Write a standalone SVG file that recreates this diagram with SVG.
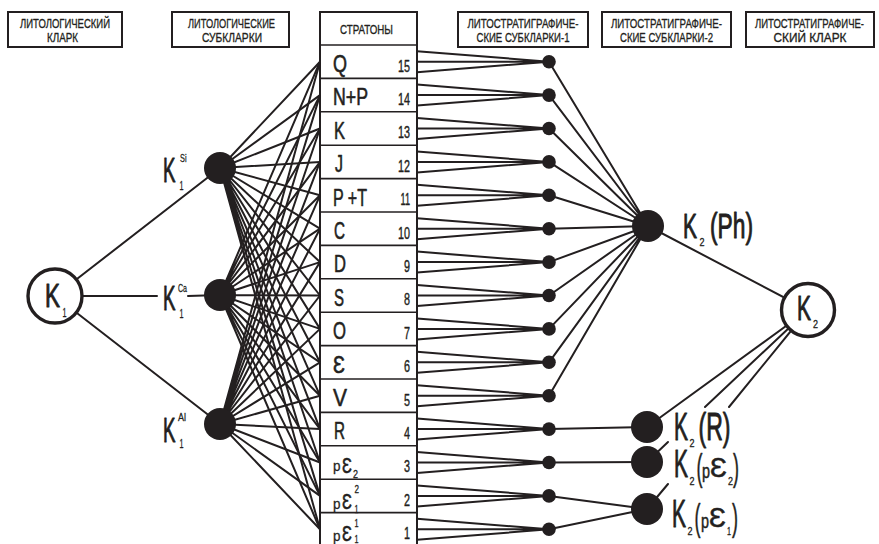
<svg xmlns="http://www.w3.org/2000/svg" width="879" height="544" viewBox="0 0 879 544">
<style>
  .ln{stroke:#231f20;stroke-width:2;fill:none;stroke-linecap:round}
  .box{fill:#fff;stroke:#231f20;stroke-width:2}
  .sep{stroke:#231f20;stroke-width:1.6}
  .t{font-family:"Liberation Sans","DejaVu Sans",sans-serif;fill:#231f20;stroke:#231f20;stroke-width:0.5;stroke-linejoin:round}
  .hd{font-size:13.5px;stroke-width:0.35}
  .row{font-size:24px;stroke-width:0.6}
  .num{font-size:16px;stroke-width:0.4}
  .big{stroke-width:1}
  .sm{stroke-width:0.3}
  .dot{fill:#231f20}
  .ring{fill:#fff;stroke:#231f20;stroke-width:3.4}
</style>
<rect width="879" height="544" fill="#fff"/>

<!-- column headers -->
<g id="headers">
  <g id="hdr-lith-clarke">
    <rect class="box" x="8" y="12" width="114" height="35"/>
    <text class="t hd" x="20" y="28" textLength="90" lengthAdjust="spacingAndGlyphs">ЛИТОЛОГИЧЕСКИЙ</text>
    <text class="t hd" x="47" y="42" textLength="31" lengthAdjust="spacingAndGlyphs">КЛАРК</text>
  </g>
  <g id="hdr-lith-subclarkes">
    <rect class="box" x="172" y="12" width="117" height="35"/>
    <text class="t hd" x="188" y="28" textLength="87" lengthAdjust="spacingAndGlyphs">ЛИТОЛОГИЧЕСКИЕ</text>
    <text class="t hd" x="202" y="42" textLength="60" lengthAdjust="spacingAndGlyphs">СУБКЛАРКИ</text>
  </g>
  <g id="hdr-ls-sub1">
    <rect class="box" x="458" y="12" width="130" height="35"/>
    <text class="t hd" x="467.5" y="28" textLength="111" lengthAdjust="spacingAndGlyphs">ЛИТОСТРАТИГРАФИЧЕ-</text>
    <text class="t hd" x="476.5" y="42" textLength="93" lengthAdjust="spacingAndGlyphs">СКИЕ СУБКЛАРКИ-1</text>
  </g>
  <g id="hdr-ls-sub2">
    <rect class="box" x="602" y="12" width="129" height="35"/>
    <text class="t hd" x="611" y="28" textLength="111" lengthAdjust="spacingAndGlyphs">ЛИТОСТРАТИГРАФИЧЕ-</text>
    <text class="t hd" x="620" y="42" textLength="93" lengthAdjust="spacingAndGlyphs">СКИЕ СУБКЛАРКИ-2</text>
  </g>
  <g id="hdr-ls-clarke">
    <rect class="box" x="746" y="12" width="128" height="35"/>
    <text class="t hd" x="755" y="28" textLength="109" lengthAdjust="spacingAndGlyphs">ЛИТОСТРАТИГРАФИЧЕ-</text>
    <text class="t hd" x="773.5" y="42" textLength="73" lengthAdjust="spacingAndGlyphs">СКИЙ КЛАРК</text>
  </g>
</g>

<!-- strata column -->
<g id="strata">
  <rect class="box" x="320" y="12" width="97" height="540"/>
  <text class="t hd" x="340" y="33.5" textLength="53" lengthAdjust="spacingAndGlyphs">СТРАТОНЫ</text>
  <g class="sep">
    <line x1="320" y1="45" x2="417" y2="45"/>
    <line x1="320" y1="78.4" x2="417" y2="78.4"/>
    <line x1="320" y1="111.8" x2="417" y2="111.8"/>
    <line x1="320" y1="145.2" x2="417" y2="145.2"/>
    <line x1="320" y1="178.6" x2="417" y2="178.6"/>
    <line x1="320" y1="212" x2="417" y2="212"/>
    <line x1="320" y1="245.4" x2="417" y2="245.4"/>
    <line x1="320" y1="278.8" x2="417" y2="278.8"/>
    <line x1="320" y1="312.2" x2="417" y2="312.2"/>
    <line x1="320" y1="345.6" x2="417" y2="345.6"/>
    <line x1="320" y1="379" x2="417" y2="379"/>
    <line x1="320" y1="412.4" x2="417" y2="412.4"/>
    <line x1="320" y1="445.8" x2="417" y2="445.8"/>
    <line x1="320" y1="479.2" x2="417" y2="479.2"/>
    <line x1="320" y1="512.6" x2="417" y2="512.6"/>
  </g>
  <!-- stratum names -->
  <text class="t row" x="333" y="72" textLength="14" lengthAdjust="spacingAndGlyphs">Q</text>
  <text class="t row" x="333" y="105.4" textLength="35" lengthAdjust="spacingAndGlyphs">N+P</text>
  <text class="t row" x="334" y="138.8" textLength="11" lengthAdjust="spacingAndGlyphs">K</text>
  <text class="t row" x="335" y="172.2" textLength="8" lengthAdjust="spacingAndGlyphs">J</text>
  <text class="t row" x="333" y="205.6" textLength="34" lengthAdjust="spacingAndGlyphs">P +T</text>
  <text class="t row" x="334" y="239" textLength="11" lengthAdjust="spacingAndGlyphs">C</text>
  <text class="t row" x="334" y="272.4" textLength="12" lengthAdjust="spacingAndGlyphs">D</text>
  <text class="t row" x="334" y="305.8" textLength="10" lengthAdjust="spacingAndGlyphs">S</text>
  <text class="t row" x="333" y="339.2" textLength="13" lengthAdjust="spacingAndGlyphs">O</text>
  <text class="t row" x="333" y="372.6" textLength="12" lengthAdjust="spacingAndGlyphs">Ɛ</text>
  <text class="t row" x="333" y="406" textLength="14" lengthAdjust="spacingAndGlyphs">V</text>
  <text class="t row" x="334" y="439.4" textLength="11" lengthAdjust="spacingAndGlyphs">R</text>
  <!-- pƐ2 -->
  <text class="t sm" font-size="15" x="333" y="471" textLength="7.5" lengthAdjust="spacingAndGlyphs">p</text>
  <text class="t" font-size="22" x="342" y="472.5" textLength="10" lengthAdjust="spacingAndGlyphs">Ɛ</text>
  <text class="t sm" font-size="11" x="353" y="477.5" textLength="5" lengthAdjust="spacingAndGlyphs">2</text>
  <!-- pƐ1 upper -->
  <text class="t sm" font-size="15" x="333" y="509" textLength="7.5" lengthAdjust="spacingAndGlyphs">p</text>
  <text class="t" font-size="22" x="342" y="508.5" textLength="10" lengthAdjust="spacingAndGlyphs">Ɛ</text>
  <text class="t sm" font-size="10" x="354.5" y="493" textLength="4.5" lengthAdjust="spacingAndGlyphs">2</text>
  <text class="t sm" font-size="11" x="354.5" y="513" textLength="4" lengthAdjust="spacingAndGlyphs">1</text>
  <!-- pƐ1 lower -->
  <text class="t sm" font-size="15" x="333" y="541" textLength="7.5" lengthAdjust="spacingAndGlyphs">p</text>
  <text class="t" font-size="22" x="342" y="541" textLength="10" lengthAdjust="spacingAndGlyphs">Ɛ</text>
  <text class="t sm" font-size="10" x="354.5" y="527" textLength="4" lengthAdjust="spacingAndGlyphs">1</text>
  <text class="t sm" font-size="11" x="354.5" y="543" textLength="4" lengthAdjust="spacingAndGlyphs">1</text>
  <!-- stratum numbers -->
  <text class="t num" x="398" y="71.5" textLength="12" lengthAdjust="spacingAndGlyphs">15</text>
  <text class="t num" x="398" y="104.9" textLength="12" lengthAdjust="spacingAndGlyphs">14</text>
  <text class="t num" x="398" y="138.3" textLength="12" lengthAdjust="spacingAndGlyphs">13</text>
  <text class="t num" x="398" y="171.7" textLength="12" lengthAdjust="spacingAndGlyphs">12</text>
  <text class="t num" x="400.5" y="205.1" textLength="9.5" lengthAdjust="spacingAndGlyphs">11</text>
  <text class="t num" x="398" y="238.5" textLength="12" lengthAdjust="spacingAndGlyphs">10</text>
  <text class="t num" x="404" y="271.9" textLength="6" lengthAdjust="spacingAndGlyphs">9</text>
  <text class="t num" x="404" y="305.3" textLength="6" lengthAdjust="spacingAndGlyphs">8</text>
  <text class="t num" x="404" y="338.7" textLength="6" lengthAdjust="spacingAndGlyphs">7</text>
  <text class="t num" x="404" y="372.1" textLength="6" lengthAdjust="spacingAndGlyphs">6</text>
  <text class="t num" x="404" y="405.5" textLength="6" lengthAdjust="spacingAndGlyphs">5</text>
  <text class="t num" x="404" y="438.9" textLength="6" lengthAdjust="spacingAndGlyphs">4</text>
  <text class="t num" x="404" y="472.3" textLength="6" lengthAdjust="spacingAndGlyphs">3</text>
  <text class="t num" x="404" y="505.7" textLength="6" lengthAdjust="spacingAndGlyphs">2</text>
  <text class="t num" x="404" y="539.1" textLength="6" lengthAdjust="spacingAndGlyphs">1</text>
</g>

<!-- connectors -->
<g id="connectors" class="ln">
  <!-- lithological clarke to subclarkes -->
  <line x1="55" y1="296" x2="220" y2="168"/>
  <line x1="55" y1="296" x2="157" y2="296"/>
  <line x1="188" y1="296" x2="220" y2="295"/>
  <line x1="55" y1="296" x2="220" y2="424"/>
  <!-- subclarke Si to every stratum -->
  <path d="M220 168L320 61.7M220 168L320 95.1M220 168L320 128.5M220 168L320 161.9M220 168L320 195.3M220 168L320 228.7M220 168L320 262.1M220 168L320 295.5M220 168L320 328.9M220 168L320 362.3M220 168L320 395.7M220 168L320 429.1M220 168L320 462.5M220 168L320 495.9M220 168L320 529.3"/>
  <!-- subclarke Ca to every stratum -->
  <path d="M220 295L320 61.7M220 295L320 95.1M220 295L320 128.5M220 295L320 161.9M220 295L320 195.3M220 295L320 228.7M220 295L320 262.1M220 295L320 295.5M220 295L320 328.9M220 295L320 362.3M220 295L320 395.7M220 295L320 429.1M220 295L320 462.5M220 295L320 495.9M220 295L320 529.3"/>
  <!-- subclarke Al to every stratum -->
  <path d="M220 424L320 61.7M220 424L320 95.1M220 424L320 128.5M220 424L320 161.9M220 424L320 195.3M220 424L320 228.7M220 424L320 262.1M220 424L320 295.5M220 424L320 328.9M220 424L320 362.3M220 424L320 395.7M220 424L320 429.1M220 424L320 462.5M220 424L320 495.9M220 424L320 529.3"/>
  <!-- strata to lithostratigraphic subclarkes-1 -->
  <path d="M417 51.2L549 61.7M417 61.7L549 61.7M417 72.2L549 61.7
           M417 84.6L549 95.1M417 95.1L549 95.1M417 105.6L549 95.1
           M417 118L549 128.5M417 128.5L549 128.5M417 139L549 128.5
           M417 151.4L549 161.9M417 161.9L549 161.9M417 172.4L549 161.9
           M417 184.8L549 195.3M417 195.3L549 195.3M417 205.8L549 195.3
           M417 218.2L549 228.7M417 228.7L549 228.7M417 239.2L549 228.7
           M417 251.6L549 262.1M417 262.1L549 262.1M417 272.6L549 262.1
           M417 285L549 295.5M417 295.5L549 295.5M417 306L549 295.5
           M417 318.4L549 328.9M417 328.9L549 328.9M417 339.4L549 328.9
           M417 351.8L549 362.3M417 362.3L549 362.3M417 372.8L549 362.3
           M417 385.2L549 395.7M417 395.7L549 395.7M417 406.2L549 395.7
           M417 418.6L549 429.1M417 429.1L549 429.1M417 439.6L549 429.1
           M417 452L549 462.5M417 462.5L549 462.5M417 473L549 462.5
           M417 485.4L549 495.9M417 495.9L549 495.9M417 506.4L549 495.9
           M417 518.8L549 529.3M417 529.3L549 529.3M417 539.8L549 529.3"/>
  <!-- subclarkes-1 to subclarkes-2 -->
  <path d="M549 61.7L648 226M549 95.1L648 226M549 128.5L648 226M549 161.9L648 226M549 195.3L648 226M549 228.7L648 226M549 262.1L648 226M549 295.5L648 226M549 328.9L648 226M549 362.3L648 226M549 395.7L648 226"/>
  <line x1="549" y1="429.1" x2="647" y2="427"/>
  <line x1="549" y1="462.5" x2="647" y2="462"/>
  <line x1="549" y1="495.9" x2="647" y2="509"/>
  <line x1="549" y1="529.3" x2="647" y2="509"/>
  <!-- subclarkes-2 to lithostratigraphic clarke -->
  <line x1="648" y1="226" x2="808" y2="310"/>
  <line x1="808" y1="310" x2="647" y2="427"/>
  <line x1="808" y1="310" x2="705" y2="407"/>
  <line x1="668" y1="442" x2="647" y2="462"/>
  <line x1="808" y1="310" x2="729" y2="407"/>
  <line x1="668" y1="484" x2="647" y2="509"/>
</g>

<!-- lithological clarke -->
<g id="node-k1">
  <circle class="ring" cx="55" cy="296" r="27"/>
  <text class="t big" font-size="34" x="45" y="307" textLength="15" lengthAdjust="spacingAndGlyphs">K</text>
  <text class="t sm" font-size="12" x="62.5" y="317" textLength="4" lengthAdjust="spacingAndGlyphs">1</text>
</g>

<!-- lithological subclarkes -->
<g id="node-k1-si">
  <circle class="dot" cx="220" cy="168" r="16"/>
  <text class="t big" font-size="35" x="163" y="182" textLength="12.5" lengthAdjust="spacingAndGlyphs">K</text>
  <text class="t sm" font-size="11" x="180" y="162" textLength="6.5" lengthAdjust="spacingAndGlyphs">Si</text>
  <text class="t sm" font-size="12" x="179.5" y="189.5" textLength="4" lengthAdjust="spacingAndGlyphs">1</text>
</g>
<g id="node-k1-ca">
  <circle class="dot" cx="220" cy="295" r="16"/>
  <text class="t big" font-size="35" x="163" y="310" textLength="12.5" lengthAdjust="spacingAndGlyphs">K</text>
  <text class="t sm" font-size="11" x="178" y="292" textLength="9" lengthAdjust="spacingAndGlyphs">Ca</text>
  <text class="t sm" font-size="12" x="179.5" y="318" textLength="4" lengthAdjust="spacingAndGlyphs">1</text>
</g>
<g id="node-k1-al">
  <circle class="dot" cx="220" cy="424" r="16"/>
  <text class="t big" font-size="35" x="163" y="442" textLength="12.5" lengthAdjust="spacingAndGlyphs">K</text>
  <text class="t sm" font-size="11" x="178" y="421" textLength="8" lengthAdjust="spacingAndGlyphs">Al</text>
  <text class="t sm" font-size="12" x="179.5" y="448" textLength="4" lengthAdjust="spacingAndGlyphs">1</text>
</g>

<!-- lithostratigraphic subclarkes-1 -->
<g id="subclarkes-1" class="dot">
  <circle cx="549" cy="61.7" r="6.8"/>
  <circle cx="549" cy="95.1" r="6.8"/>
  <circle cx="549" cy="128.5" r="6.8"/>
  <circle cx="549" cy="161.9" r="6.8"/>
  <circle cx="549" cy="195.3" r="6.8"/>
  <circle cx="549" cy="228.7" r="6.8"/>
  <circle cx="549" cy="262.1" r="6.8"/>
  <circle cx="549" cy="295.5" r="6.8"/>
  <circle cx="549" cy="328.9" r="6.8"/>
  <circle cx="549" cy="362.3" r="6.8"/>
  <circle cx="549" cy="395.7" r="6.8"/>
  <circle cx="549" cy="429.1" r="6.8"/>
  <circle cx="549" cy="462.5" r="6.8"/>
  <circle cx="549" cy="495.9" r="6.8"/>
  <circle cx="549" cy="529.3" r="6.8"/>
</g>

<!-- lithostratigraphic subclarkes-2 -->
<g id="node-k2-ph">
  <circle class="dot" cx="648" cy="226" r="16"/>
  <text class="t big" font-size="35" x="683" y="238" textLength="14" lengthAdjust="spacingAndGlyphs">K</text>
  <text class="t sm" font-size="10" x="699.5" y="246" textLength="5" lengthAdjust="spacingAndGlyphs">2</text>
  <text class="t big" font-size="35" x="710" y="238" textLength="43" lengthAdjust="spacingAndGlyphs">(Ph)</text>
</g>
<g id="node-k2-r">
  <circle class="dot" cx="647" cy="427" r="16"/>
  <text class="t big" font-size="39" x="674" y="440" textLength="14" lengthAdjust="spacingAndGlyphs">K</text>
  <text class="t sm" font-size="10" x="689.5" y="447" textLength="5" lengthAdjust="spacingAndGlyphs">2</text>
  <text class="t big" font-size="39" x="698.5" y="440" textLength="32" lengthAdjust="spacingAndGlyphs">(R)</text>
</g>
<g id="node-k2-pe2">
  <circle class="dot" cx="647" cy="462" r="16"/>
  <text class="t big" font-size="39" x="674" y="477" textLength="14" lengthAdjust="spacingAndGlyphs">K</text>
  <text class="t sm" font-size="10" x="689.5" y="484.5" textLength="5" lengthAdjust="spacingAndGlyphs">2</text>
  <text class="t" font-size="36" x="696.5" y="480" textLength="6" lengthAdjust="spacingAndGlyphs">(</text>
  <text class="t" font-size="20" x="702" y="478" textLength="8" lengthAdjust="spacingAndGlyphs">p</text>
  <text class="t" font-size="28" x="710" y="477" textLength="17" lengthAdjust="spacingAndGlyphs">Ɛ</text>
  <text class="t sm" font-size="10" x="728" y="485" textLength="5" lengthAdjust="spacingAndGlyphs">2</text>
  <text class="t" font-size="36" x="733" y="480" textLength="6" lengthAdjust="spacingAndGlyphs">)</text>
</g>
<g id="node-k2-pe1">
  <circle class="dot" cx="647" cy="509" r="16"/>
  <text class="t big" font-size="39" x="672" y="527" textLength="14" lengthAdjust="spacingAndGlyphs">K</text>
  <text class="t sm" font-size="10" x="687.5" y="535" textLength="5" lengthAdjust="spacingAndGlyphs">2</text>
  <text class="t" font-size="36" x="694.5" y="530" textLength="6" lengthAdjust="spacingAndGlyphs">(</text>
  <text class="t" font-size="20" x="701" y="528" textLength="8" lengthAdjust="spacingAndGlyphs">p</text>
  <text class="t" font-size="28" x="709" y="527" textLength="17" lengthAdjust="spacingAndGlyphs">Ɛ</text>
  <text class="t sm" font-size="10" x="727" y="535" textLength="4" lengthAdjust="spacingAndGlyphs">1</text>
  <text class="t" font-size="36" x="732" y="530" textLength="6" lengthAdjust="spacingAndGlyphs">)</text>
</g>

<!-- lithostratigraphic clarke -->
<g id="node-k2">
  <circle class="ring" cx="808" cy="310" r="26.5"/>
  <text class="t big" font-size="35" x="797" y="320" textLength="14" lengthAdjust="spacingAndGlyphs">K</text>
  <text class="t sm" font-size="10" x="813" y="328" textLength="5" lengthAdjust="spacingAndGlyphs">2</text>
</g>
</svg>
